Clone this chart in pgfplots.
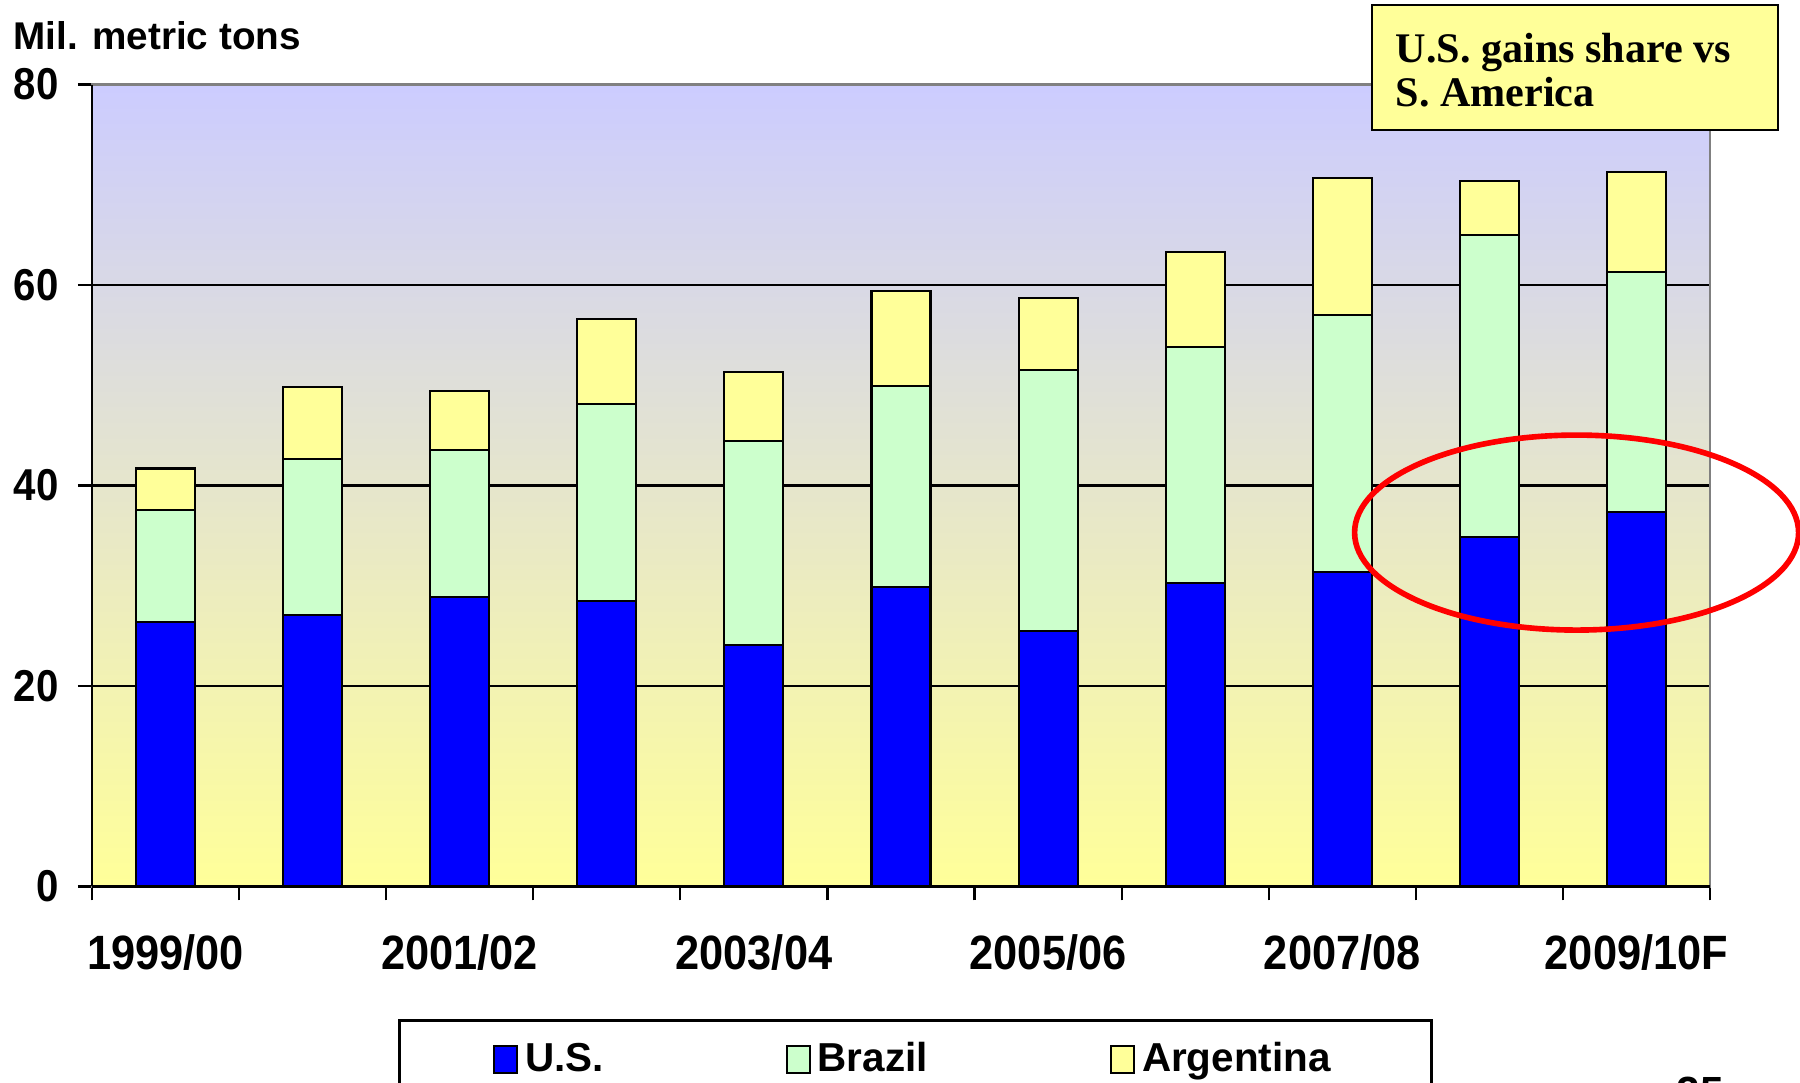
\documentclass[border=0pt]{standalone}
\usepackage{pgfplots}
\pgfplotsset{compat=1.18}
\usepackage{pgfplotstable}
\usepackage{fontspec}
\setmainfont{Liberation Sans}
\newfontfamily\tickfont[FakeStretch=0.9]{Liberation Sans}
\newfontfamily\serifbf{Liberation Serif}
\definecolor{usblue}{RGB}{0,0,255}
\definecolor{brgreen}{RGB}{204,255,204}
\definecolor{argyellow}{RGB}{255,255,153}
\definecolor{bgtop}{RGB}{204,204,255}
\definecolor{bgbottom}{RGB}{255,255,153}
\definecolor{bordergray}{RGB}{128,128,128}

\pgfplotstableread{
idx us brazil arg
0 26.4 11.2 4.1
1 27.1 15.5 7.2
2 28.9 14.6 5.9
3 28.5 19.6 8.5
4 24.1 20.3 6.9
5 29.9 20.0 9.5
6 25.5 26.0 7.2
7 30.3 23.5 9.5
8 31.4 25.6 13.7
9 34.85 30.15 5.4
10 37.4 23.9 10.0
}\datatable

\begin{document}
\begin{tikzpicture}
\begin{axis}[
  name=ax, at={(0,0)}, anchor=south west,
  scale only axis, width=16.18cm, height=8.02cm,
  xmin=-0.5, xmax=10.5, ymin=0, ymax=80,
  ybar stacked, bar width=0.59cm,
  clip=false,
  axis background/.style={top color=bgtop, bottom color=bgbottom},
  axis line style={draw=bordergray, line width=0.8pt},
  ymajorgrids, grid style={black, line width=0.7pt},
  ytick={0,20,40,60,80},
  xtick={-0.5,0.5,1.5,2.5,3.5,4.5,5.5,6.5,7.5,8.5,9.5,10.5}, xticklabels={},
  extra x ticks={0,2,4,6,8,10},
  extra x tick labels={1999/00,2001/02,2003/04,2005/06,2007/08,2009/10F},
  extra x tick style={major tick length=0pt, grid=none},
  tick align=outside, major tick length=0.14cm,
  tick style={black, line width=0.6pt},
  xtick pos=bottom, ytick pos=left,
  /pgf/number format/assume math mode=true,
  yticklabel style={font=\tickfont\bfseries\fontsize{12.7}{15}\selectfont, xshift=-0.07cm},
  xticklabel style={font=\tickfont\bfseries\fontsize{13.7}{16}\selectfont, yshift=-0.36cm},
  legend columns=3,
  legend style={at={(0,0)}, anchor=north west, xshift=3.06cm, yshift=-1.325cm,
    draw=black, line width=0.8pt, inner xsep=0.935cm, inner ysep=0.15cm,
    font=\bfseries\fontsize{11.5}{14}\selectfont,
    /tikz/every even column/.append style={column sep=1.75cm}},
]
\addplot[fill=usblue, draw=black, line width=0.6pt,
  legend image code/.code={\draw[fill=usblue,draw=black,line width=0.6pt] (0cm,-0.135cm) rectangle (0.23cm,0.135cm);}]
  table[x=idx, y=us]{\datatable};
\addlegendentry{U.S.}
\addplot[fill=brgreen, draw=black, line width=0.6pt,
  legend image code/.code={\draw[fill=brgreen,draw=black,line width=0.6pt] (0cm,-0.135cm) rectangle (0.23cm,0.135cm);}]
  table[x=idx, y=brazil]{\datatable};
\addlegendentry{Brazil}
\addplot[fill=argyellow, draw=black, line width=0.6pt,
  legend image code/.code={\draw[fill=argyellow,draw=black,line width=0.6pt] (0cm,-0.135cm) rectangle (0.23cm,0.135cm);}]
  table[x=idx, y=arg]{\datatable};
\addlegendentry{Argentina}
\draw[black, line width=0.8pt] (rel axis cs:0,0) -- (rel axis cs:0,1);
\draw[black, line width=0.8pt] (rel axis cs:0,0) -- (rel axis cs:1,0);
\end{axis}
\draw[red, line width=1.6pt] ([shift={(14.846,3.539)}]ax.south west) ellipse [x radius=2.22cm, y radius=0.975cm];
\node[anchor=base west, inner sep=0, font=\bfseries\fontsize{11}{13}\selectfont]
  at ([shift={(-0.79,8.365)}]ax.south west) {Mil. metric tons};
\draw[fill=argyellow, line width=0.75pt] ([shift={(12.80,7.565)}]ax.south west) rectangle ([shift={(16.86,8.815)}]ax.south west);
\node[anchor=base west, inner sep=0, font=\serifbf\bfseries\fontsize{12}{14}\selectfont]
  at ([shift={(13.03,8.235)}]ax.south west) {U.S. gains share vs};
\node[anchor=base west, inner sep=0, font=\serifbf\bfseries\fontsize{12}{14}\selectfont]
  at ([shift={(13.03,7.795)}]ax.south west) {S. America};
\node[anchor=north, inner sep=0, font=\bfseries\fontsize{12}{14}\selectfont]
  at ([shift={(16.08,-1.895)}]ax.south west) {25};
\pgfresetboundingbox
\path[use as bounding box] ([shift={(-0.92,-1.965)}]ax.south west) rectangle ([shift={(17.08,8.865)}]ax.south west);
\end{tikzpicture}
\end{document}
